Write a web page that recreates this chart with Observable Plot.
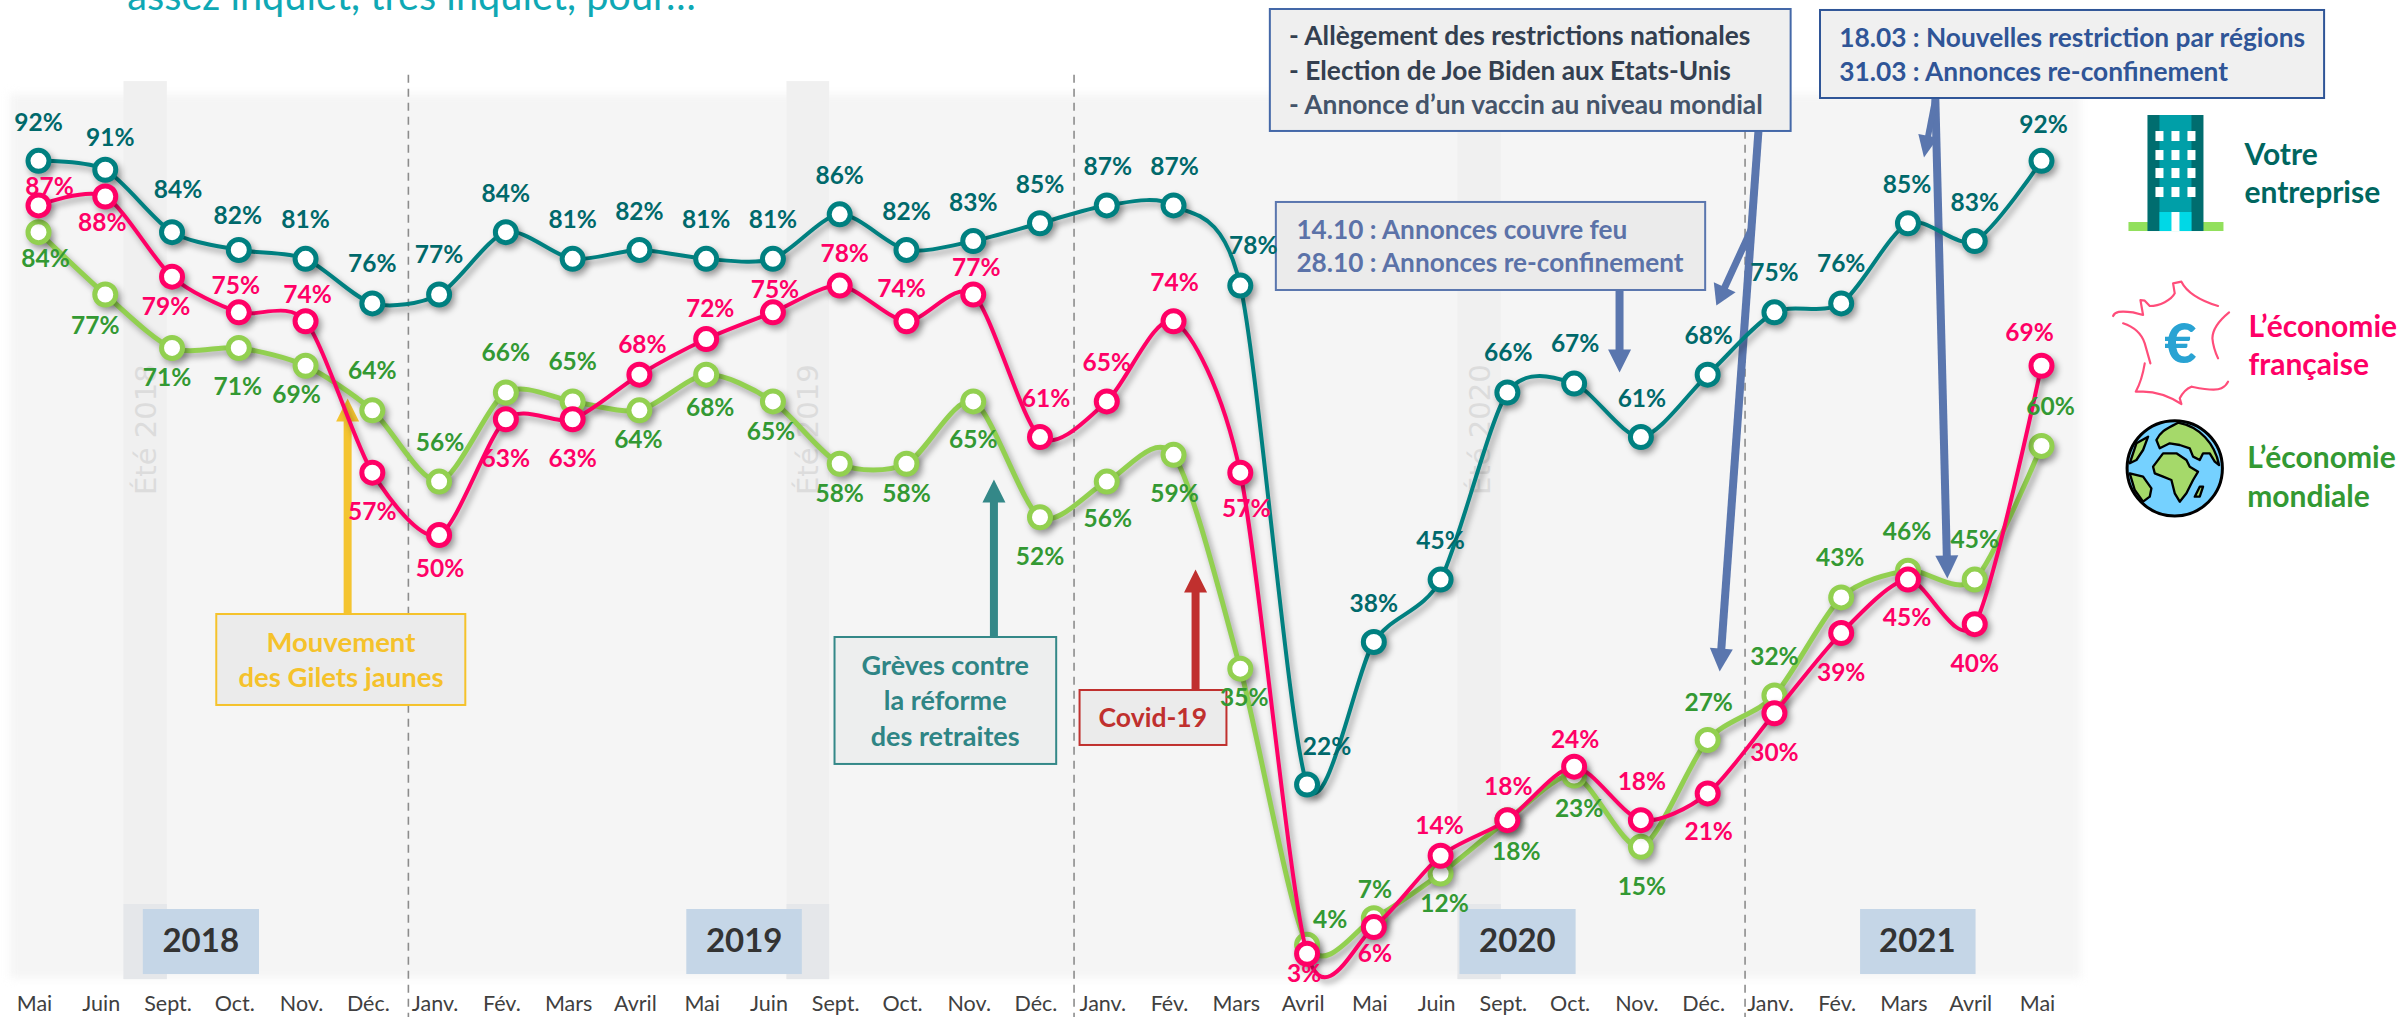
<!DOCTYPE html>
<html lang="fr">
<head>
<meta charset="utf-8">
<title>Inquiétude</title>
<script src="https://cdn.jsdelivr.net/npm/d3@7"></script>
<script src="https://cdn.jsdelivr.net/npm/@observablehq/plot@0.6"></script>
<style>
  html, body { margin: 0; padding: 0; background: #fff; overflow: hidden; }
  svg { display: block; }
</style>
</head>
<body>
<div id="chart"></div>
<script>
// ---------- data ----------
const months = ["Mai","Juin","Sept.","Oct.","Nov.","Déc.",
  "Janv.","Fév.","Mars","Avril","Mai","Juin","Sept.","Oct.","Nov.","Déc.",
  "Janv.","Fév.","Mars","Avril","Mai","Juin","Sept.","Oct.","Nov.","Déc.",
  "Janv.","Fév.","Mars","Avril","Mai"];
const entreprise = [92,91,84,82,81,76,77,84,81,82,81,81,86,82,83,85,87,87,78,22,38,45,66,67,61,68,75,76,85,83,92];
const francaise  = [87,88,79,75,74,57,50,63,63,68,72,75,78,74,77,61,65,74,57,3,6,14,18,24,18,21,30,39,45,40,69];
const mondiale   = [84,77,71,71,69,64,56,66,65,64,68,65,58,58,65,52,56,59,35,4,7,12,18,23,15,27,32,43,46,45,60];
const years = ["2018","2019","2020","2021"];
const summers = ["Été 2018","Été 2019","Été 2020"];

// ---------- layout of the value labels (offset from the point, in screen pixels) ----------
const entrepriseOffX = [0,5,6,-1,0,0,0,0,0,0,0,0,0,0,0,0,1,1,13,20,0,0,1,1,1,1,0,0,-1,0,2];
const entrepriseOffY = [-38,-32,-42,-34,-39,-39,-39,-38,-39,-38,-39,-39,-38,-38,-38,-38,-38,-38,-39,-37,-38,-38,-39,-39,-38,-39,-39,-39,-38,-38,-36];
const francaiseOffX  = [11,-3,-6,-3,2,0,1,0,0,3,4,2,5,-5,3,6,0,1,6,-3,1,-1,1,1,1,1,0,0,-1,0,-12];
const francaiseOffY  = [-18,27,30,-26,-26,39,34,40,40,-30,-30,-22,-31,-32,-26,-38,-38,-38,36,20,27,-30,-33,-27,-38,39,40,40,39,40,-33];
const mondialeOffX   = [7,-10,-5,-1,-9,0,1,0,0,-1,4,-2,0,0,0,0,1,1,4,23,1,4,9,5,1,1,0,-1,-1,0,9];
const mondialeOffY   = [27,32,30,39,29,-39,-38,-39,-39,30,33,31,30,30,39,40,38,39,29,-25,-28,31,32,34,40,-37,-38,-39,-39,-39,-39];

// ---------- scale geometry ----------
const W = 2405, H = 1017;
const mL = 38, mR = 364, mB = 37;
const pxMonth = (W - mL - mR) / 30;
const pxPct = (H - mB) / 110;
const label = "Lato, Carlito, sans-serif";

const series = [
  {name:"mondiale",  vals:mondiale,   ox:mondialeOffX,   oy:mondialeOffY,   line:"#92D050", text:"#339933", lw:5},
  {name:"entreprise",vals:entreprise, ox:entrepriseOffX, oy:entrepriseOffY, line:"#008080", text:"#00696B", lw:4},
  {name:"francaise", vals:francaise,  ox:francaiseOffX,  oy:francaiseOffY,  line:"#FF0066", text:"#FF0066", lw:4}
];
const shadow = "drop-shadow(3px 4px 3px rgba(0,0,0,.36))";

// ---------- helpers ----------
function box(x1, x2, y1, y2, fill, stroke, sw = 2, extra = {}) {
  return Plot.rect([0], {x1:[x1], x2:[x2], y1:[y1], y2:[y2], fill, stroke: stroke ?? "none", strokeWidth: sw, ...extra});
}
function txt(lines, fill, o = {}) {
  return Plot.text(lines, {x:"x", y:"y", text:"t", fill, fontFamily: label, fontWeight: 700, fontSize: 27, ...o});
}
const headShape = (w, h) => ({draw(c) { c.moveTo(0,0); c.lineTo(-w/2,h); c.lineTo(w/2,h); c.closePath(); }});
function arrow(x1, y1, x2, y2, color, sw = 8, headW = 23, headL = 23) {
  const dx = (x2 - x1) * pxMonth, dy = (y2 - y1) * pxPct;
  const len = Math.hypot(dx, dy), t = 1 - (headL - 1) / len;
  const angle = Math.atan2(dx, dy) * 180 / Math.PI;
  return [
    Plot.link([0], {x1:[x1], y1:[y1], x2:[x1 + (x2-x1)*t], y2:[y1 + (y2-y1)*t], stroke:color, strokeWidth:sw, strokeLinecap:"butt"}),
    Plot.vector([0], {x:[x2], y:[y2], rotate:[angle], length:headL, anchor:"start", shape:headShape(headW, headL), fill:color, stroke:"none"})
  ];
}
function icon(x, y, inner) {
  return (index, scales) => {
    const g = d3.create("svg:g").attr("transform", `translate(${scales.x(x)},${scales.y(y)})`);
    g.html(inner);
    return g.node();
  };
}

// ---------- icons (local vector drawings) ----------
const windowsX = [8,24,40], windowsY = [16,35,53,72];
const buildingIcon = `
  <rect x="0" y="107" width="95" height="9" fill="#92E05C"/>
  <rect x="19" y="0" width="56" height="116" fill="#006D6F"/>
  <rect x="31" y="0" width="32" height="116" fill="#009FA8"/>
  <rect x="31" y="97" width="32" height="19" fill="#00D8E6"/>
  <rect x="43" y="97" width="8" height="19" fill="#fff"/>
  ${windowsY.map(y => windowsX.map(x => `<rect x="${x+19}" y="${y}" width="8" height="10" fill="#fff"/>`).join("")).join("")}`;
const francePaths = [
  "M40,108 C45,95 60,92 100,97 L130,105 L122,60 L135,62 L150,78 C180,78 215,60 225,40 L220,10 L245,5 C255,25 280,55 355,78",
  "M70,130 C100,140 125,160 135,190 L152,250",
  "M135,250 C130,280 122,310 108,335 L130,335 C170,335 210,350 245,372 L240,355 C250,335 262,325 275,320 C300,325 345,335 365,325 C375,320 382,312 385,305",
  "M388,97 C360,120 338,150 338,175 C340,200 348,220 355,235"
];
const franceIcon = `<g transform="scale(0.3333)" fill="none" stroke="#FF4D7A" stroke-width="6.5" stroke-linecap="round" stroke-linejoin="round">
  ${francePaths.map(d => `<path d="${d}"/>`).join("")}</g>`;
const globeLand = [
  "M170,480 C185,450 205,445 235,428 C300,440 345,490 358,555 L345,545 L330,520 L310,520 L300,540 L280,530 L270,505 L240,495 L210,490 L180,505 Z",
  "M160,560 L190,520 L230,520 L260,540 L270,560 L295,575 L280,600 L260,640 L240,665 L225,640 L215,600 L190,590 L165,580 Z",
  "M90,550 L110,490 L145,470 L130,510 L110,540 Z",
  "M90,580 L130,590 L155,625 L150,650 L130,665 L105,630 Z",
  "M285,650 L300,620 L310,620 L300,650 Z"
];
const globeIcon = `<g transform="scale(0.3333)">
  <circle cx="225" cy="565" r="143" fill="#75D1FF"/>
  ${globeLand.map(d => `<path d="${d}" fill="#A5D96A" stroke="#000" stroke-width="7" stroke-linejoin="round"/>`).join("")}
  <circle cx="225" cy="565" r="143" fill="none" stroke="#000" stroke-width="9"/></g>`;

// ---------- marks ----------
const marks = [
  // panel
  box(-0.42, 30.6, 0.2, 99.45, "#F5F5F5", null, 0, {imageFilter:"blur(4px)"}),
  // summers
  ...[[1.28,1.93],[11.21,11.85],[21.26,21.91]].flatMap(([a,b], k) => [
    box(a, b, 0.1, 100.9, "#F0F0F0"),
    box(a, b, 0.1, 8.53, "#E5E7EA"),
    Plot.text([summers[k]], {x:[(a+b)/2 + 0.01], y:[54.5], text:d=>d, rotate:-90, textAnchor:"start", fill:"#DCDCDC", fontFamily:"DejaVu Sans", fontSize:29})
  ]),
  // year separators
  Plot.ruleX([5.54,15.51,25.56], {y1:101.6, y2:-4.2, stroke:"#8C8C8C", strokeWidth:1.6, strokeDasharray:"8,6"}),
  // year tags
  ...[[1.57,3.31,2.43],[9.71,11.44,10.57],[21.29,23.03,22.15],[27.29,29.02,28.14]].flatMap(([a,b,c],k)=>[
    box(a, b, 0.67, 7.97, "#C5D6E7"),
    Plot.text([years[k]], {x:[c], y:[4.38], text:d=>d, fill:"#333333", fontFamily:label, fontWeight:700, fontSize:33})
  ]),
  // annotation arrows
  ...arrow(4.63,41.08,4.63,65.33,"#F4C430"),
  ...arrow(14.31,38.5,14.31,56.24,"#348888"),
  ...arrow(17.33,32.55,17.33,46.13,"#C0302E"),
  ...arrow(23.68,77.45,23.68,68.25,"#5A76AE"),
  ...arrow(25.76,95.3,25.18,34.68,"#5A76AE"),
  ...arrow(25.66,84.41,25.13,75.77,"#5A76AE",7,24,20),
  ...arrow(28.41,99,28.59,45.12,"#5A76AE"),
  ...arrow(28.41,99,28.24,92.38,"#5A76AE",6,20,22),
  // annotation boxes
  box(2.67,6.40,30.87,41.08,"#EBEBEB","#F5C22B"),
  txt([{x:4.53,y:37.83,t:"Mouvement"},{x:4.53,y:33.9,t:"des Gilets jaunes"}], "#F5C22B", {fontSize:27.5}),
  box(11.93,15.25,24.25,38.5,"#EDEEEE","#348888"),
  txt([{x:13.58,y:35.25,t:"Grèves contre"},{x:13.58,y:31.32,t:"la réforme"},{x:13.58,y:27.28,t:"des retraites"}], "#2F8585"),
  box(15.6,17.8,26.38,32.55,"#EBEBEB","#C0302E"),
  txt([{x:16.69,y:29.41,t:"Covid-19"}], "#C0302E", {fontSize:26.5}),
  box(18.45,26.25,95.3,108.99,"#EFEFEF","#4468A8"),
  txt([{x:18.73,y:105.96,t:"- Allègement des restrictions nationales"},{x:18.73,y:102.03,t:"- Election de Joe Biden aux Etats-Unis"}], "#333F50", {textAnchor:"start", fontSize:26.3}),
  txt([{x:18.73,y:98.21,t:"- Annonce d’un vaccin au niveau mondial"}], "#44546A", {textAnchor:"start", fontSize:26.3}),
  box(18.54,24.97,77.45,87.33,"#EBEBEB","#5A76AE"),
  txt([{x:18.84,y:84.18,t:"14.10 : Annonces couvre feu"},{x:18.84,y:80.48,t:"28.10 : Annonces re-confinement"}], "#5B72A8", {textAnchor:"start", fontSize:26.2}),
  box(26.69,34.24,99,108.88,"#F0F0F0","#2F5597"),
  txt([{x:26.97,y:105.74,t:"18.03 : Nouvelles restriction par régions"},{x:26.97,y:101.92,t:"31.03 : Annonces re-confinement"}], "#2F5597", {textAnchor:"start", fontSize:26.3}),
  // series
  ...series.flatMap(s => [
    Plot.line(s.vals, {x:(d,i)=>i, y:d=>d, stroke:s.line, strokeWidth:s.lw, curve:"cardinal", tension:0.2, imageFilter:shadow}),
    Plot.dot(s.vals, {x:(d,i)=>i, y:d=>d, r:10.5, stroke:s.line, strokeWidth:5, fill:"#FFFFFF", imageFilter:shadow})
  ]),
  // value labels
  ...series.map(s => Plot.text(s.vals, {
    x:(d,i)=>i + s.ox[i]/pxMonth, y:(d,i)=>d - s.oy[i]/pxPct, text:d=>d+"%",
    fill:s.text, fontFamily:label, fontWeight:700, fontSize:24.5
  })),
  // axis
  Plot.axisX(d3.range(months.length), {anchor:"bottom", tickSize:0, tickPadding:15, tickFormat:i=>months[i], label:null, dx:-4,
    fontFamily:label, fontSize:21.5, fill:"#404040", stroke:null}),
  // title (runs off the top of the page)
  Plot.text(["assez inquiet, très inquiet, pour…"], {x:[1.33], y:[108.88], text:d=>d, textAnchor:"start", lineAnchor:"bottom",
    fill:"#0FA8B4", fontFamily:label, fontSize:39.7}),
  // legend
  icon(31.31,97.09,buildingIcon),
  txt([{x:33.04,y:92.6,t:"Votre"},{x:33.04,y:88.34,t:"entreprise"}], "#00665F", {textAnchor:"start", fontSize:30}),
  icon(30.88,78.57,franceIcon),
  Plot.text(["€"], {x:[32.08], y:[71.28], text:d=>d, fill:"#29A3D3", fontFamily:label, fontWeight:900, fontSize:56}),
  txt([{x:33.1,y:73.3,t:"L’économie"},{x:33.1,y:69.03,t:"française"}], "#FF0066", {textAnchor:"start", fontSize:30}),
  icon(30.88,78.57,globeIcon),
  txt([{x:33.08,y:58.59,t:"L’économie"},{x:33.08,y:54.21,t:"mondiale"}], "#339933", {textAnchor:"start", fontSize:30})
];

const chart = Plot.plot({
  width: W, height: H,
  marginLeft: mL, marginRight: mR, marginTop: 0, marginBottom: mB,
  style: {background:"transparent", overflow:"hidden"},
  x: {domain:[0,30], axis:null},
  y: {domain:[0,110], axis:null},
  marks
});
document.getElementById("chart").append(chart);
</script>
</body>
</html>
